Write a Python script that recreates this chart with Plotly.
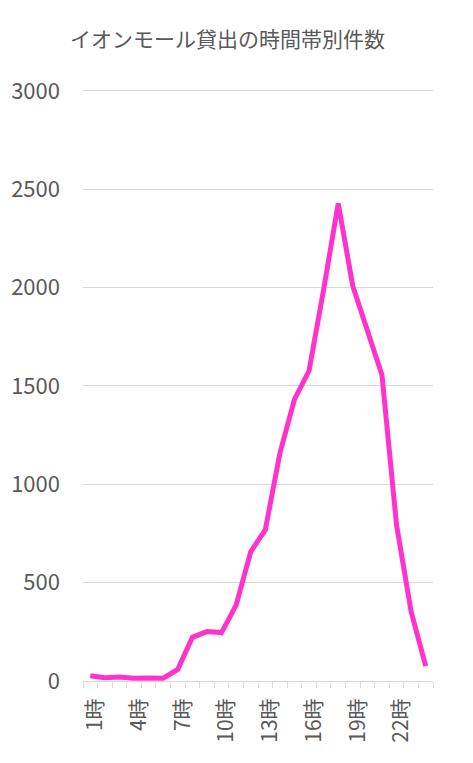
import plotly.graph_objects as go

hours = [f"{h}時" for h in range(1, 25)]
counts = [27, 17, 20, 14, 15, 14, 59, 222, 251, 246, 386, 657, 768, 1158, 1432, 1577,
          1990, 2428, 2008, 1780, 1556, 793, 352, 76]
tick_labels = [h if (i % 3 == 0) else "" for i, h in enumerate(hours)]
y_ticks = [0, 500, 1000, 1500, 2000, 2500, 3000]

FONT = "Noto Sans CJK JP"
GREY = "#595959"
W, H = 465, 755  # page body has an 8px margin

fig = go.Figure()
fig.add_trace(go.Scatter(
    x=hours, y=counts, mode="lines",
    line=dict(color="#FF33CC", width=5),
    cliponaxis=False, hoverinfo="x+y"
))

fig.update_layout(
    width=W, height=H,
    margin=dict(l=75, r=40, t=77, b=82, autoexpand=False),
    paper_bgcolor="white", plot_bgcolor="white",
    showlegend=False,
    font=dict(family=FONT, color=GREY),
    title=dict(text="イオンモール貸出の時間帯別件数", x=(227.5 - 8) / W, xanchor="center",
               y=1 - 32 / H, yanchor="middle", yref="container",
               font=dict(size=21, color=GREY, family=FONT)),
    xaxis=dict(type="category", categoryorder="array", categoryarray=hours,
               range=[-0.5, 23.5], automargin=False,
               tickmode="array", tickvals=hours, ticktext=tick_labels,
               tickangle=-90, tickson="boundaries", ticks="outside", ticklen=6,
               tickcolor="#d9d9d9", tickwidth=1,
               ticklabelstandoff=8, ticklabelshift=5,
               showline=True, linecolor="#d9d9d9", linewidth=1,
               showgrid=False, zeroline=False,
               tickfont=dict(size=21, color=GREY, family=FONT)),
    yaxis=dict(range=[0, 3030], tickmode="array", tickvals=y_ticks, automargin=False,
               showgrid=True, gridcolor="#d9d9d9", gridwidth=1,
               zeroline=False, showline=False, ticks="",
               ticklabelstandoff=22,
               tickfont=dict(size=22, color=GREY, family=FONT)),
)

fig.write_html("out.html")
